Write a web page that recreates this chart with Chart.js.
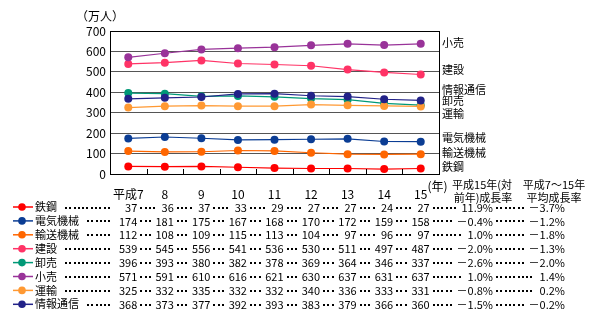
<!DOCTYPE html>
<html>
<head>
<meta charset="utf-8">
<script src="https://cdn.jsdelivr.net/npm/chart.js@4"></script>
<style>
  html, body { margin: 0; padding: 0; background: #fff; }
  #wrap { width: 594px; height: 322px; }
</style>
</head>
<body>
<div id="wrap"><canvas id="empChart" width="594" height="322"></canvas></div>
<script>
// Static data (万人)
var years = ['平成7', '8', '9', '10', '11', '12', '13', '14', '15'];
var seriesNames = ['鉄鋼', '電気機械', '輸送機械', '建設', '卸売', '小売', '運輸', '情報通信'];

var steel        = [37, 36, 37, 33, 29, 27, 27, 24, 27];
var electric     = [174, 181, 175, 167, 168, 170, 172, 159, 158];
var transportMch = [112, 108, 109, 115, 113, 104, 97, 96, 97];
var construction = [539, 545, 556, 541, 536, 530, 511, 497, 487];
var wholesale    = [396, 393, 380, 382, 378, 369, 364, 346, 337];
var retail       = [571, 591, 610, 616, 621, 630, 637, 631, 637];
var transport    = [325, 332, 335, 332, 332, 340, 336, 333, 331];
var infoComm     = [368, 373, 377, 392, 393, 383, 379, 366, 360];

var growthYoY = ['11.9%', '－0.4%', '1.0%', '－2.0%', '－2.6%', '1.0%', '－0.8%', '－1.5%'];
var growthAvg = ['－3.7%', '－1.2%', '－1.8%', '－1.3%', '－2.0%', '1.4%', '0.2%', '－0.2%'];

var allSeries = [steel, electric, transportMch, construction, wholesale, retail, transport, infoComm];
var seriesColors = ['#ff0000', '#0b3d94', '#ff6600', '#ff3366', '#009977', '#993399', '#ff9933', '#222288'];
// where the name labels sit on the right side, in axis units
var labelAt = [34, 176, 103, 509, 357, 641, 294, 411];

var CJK = '"Noto Sans CJK JP", "DejaVu Sans", sans-serif';

var datasets = seriesNames.map(function (name, i) {
    return {
        label: name,
        data: allSeries[i],
        borderColor: seriesColors[i],
        backgroundColor: seriesColors[i],
        borderWidth: 1.2,
        pointRadius: 4,
        pointStyle: 'circle',
        pointBorderWidth: 0,
        tension: 0,
        order: seriesNames.length - i
    };
});

// small square leader dots
function leaderDots(ctx, x0, x1, y) {
    for (var x = x0; x <= x1; x += 4.3) {
        ctx.fillRect(Math.round(x), Math.round(y), 2, 2);
    }
}

// draws border, inner ticks, side labels and the data table
var extras = {
    id: 'extras',
    afterDraw: function (chart) {
        var ctx = chart.ctx;
        var a = chart.chartArea;
        var xs = chart.scales.x;
        var ys = chart.scales.y;
        ctx.save();

        // plot border
        ctx.strokeStyle = '#000';
        ctx.lineWidth = 1;
        ctx.strokeRect(Math.round(a.left) + 0.5, Math.round(a.top) + 0.5,
            Math.round(a.right - a.left), Math.round(a.bottom - a.top));

        // tick marks between categories, pointing in
        for (var i = 0; i < years.length - 1; i++) {
            var bx = Math.round((xs.getPixelForTick(i) + xs.getPixelForTick(i + 1)) / 2) + 0.5;
            ctx.beginPath();
            ctx.moveTo(bx, a.bottom);
            ctx.lineTo(bx, a.bottom - 5);
            ctx.stroke();
        }

        ctx.fillStyle = '#000';
        ctx.textBaseline = 'middle';

        // "(年)" after last tick label
        ctx.font = '12px ' + CJK;
        var lastX = xs.getPixelForTick(years.length - 1);
        ctx.textAlign = 'left';
        ctx.fillText('(年)', lastX + ctx.measureText(years[years.length - 1]).width / 2, 186);

        // unit
        ctx.fillText('（万人）', 76, 16);

        // series names at right
        ctx.font = '11px ' + CJK;
        seriesNames.forEach(function (name, i) {
            ctx.fillText(name, a.right + 3, ys.getPixelForValue(labelAt[i]));
        });

        // table header
        ctx.textAlign = 'center';
        ctx.fillText('平成15年(対', 482, 185);
        ctx.fillText('前年)成長率', 483, 198);
        ctx.fillText('平成7～15年', 554, 185);
        ctx.fillText('平均成長率', 554, 198);

        // table rows
        var rowY0 = 207, rowH = 13.9;
        seriesNames.forEach(function (name, r) {
            var y = rowY0 + r * rowH;
            // legend sample
            ctx.strokeStyle = seriesColors[r];
            ctx.lineWidth = 1.5;
            ctx.beginPath();
            ctx.moveTo(13, y);
            ctx.lineTo(33, y);
            ctx.stroke();
            ctx.fillStyle = seriesColors[r];
            ctx.beginPath();
            ctx.arc(22, y, 3.8, 0, Math.PI * 2);
            ctx.fill();

            ctx.fillStyle = '#000';
            ctx.textAlign = 'left';
            ctx.font = '11px ' + CJK;
            ctx.fillText(name, 35, y);
            var end = 35 + ctx.measureText(name).width;

            // cells: year values then the two growth rates
            var cells = [];
            allSeries[r].forEach(function (v, k) {
                cells.push({ text: String(v), right: xs.getPixelForTick(k) + 9 });
            });
            cells.push({ text: growthYoY[r], right: 493 });
            cells.push({ text: growthAvg[r], right: 565 });

            ctx.textAlign = 'right';
            cells.forEach(function (c, k) {
                var w = ctx.measureText(c.text).width;
                var start = c.right - w;
                var dotEnd = k === 0 ? 111 : start - 6;
                leaderDots(ctx, end + (k === 0 ? 8 : 3), dotEnd, y - 0.5);
                ctx.fillText(c.text, c.right, y + 0.5);
                end = c.right;
            });
        });
        ctx.restore();
    }
};

var ctx = document.getElementById('empChart').getContext('2d');
var chart = new Chart(ctx, {
    type: 'line',
    data: { labels: years, datasets: datasets },
    options: {
        responsive: false,
        animation: false,
        layout: { padding: { left: 0, top: 31, right: 155, bottom: 0 } },
        plugins: { legend: { display: false }, tooltip: { enabled: false } },
        scales: {
            x: {
                offset: true,
                grid: { display: false },
                border: { display: false },
                ticks: { color: '#000', font: { family: CJK, size: 12 }, padding: 5, maxRotation: 0 },
                afterFit: function (s) { s.height = 148; }
            },
            y: {
                min: 0,
                max: 700,
                grid: { color: '#555', drawTicks: false, lineWidth: 1 },
                border: { display: false },
                ticks: { stepSize: 100, color: '#000', font: { family: CJK, size: 12 }, padding: 4 },
                afterFit: function (s) { s.width = 110; }
            }
        }
    },
    plugins: [extras]
});
</script>
</body>
</html>
